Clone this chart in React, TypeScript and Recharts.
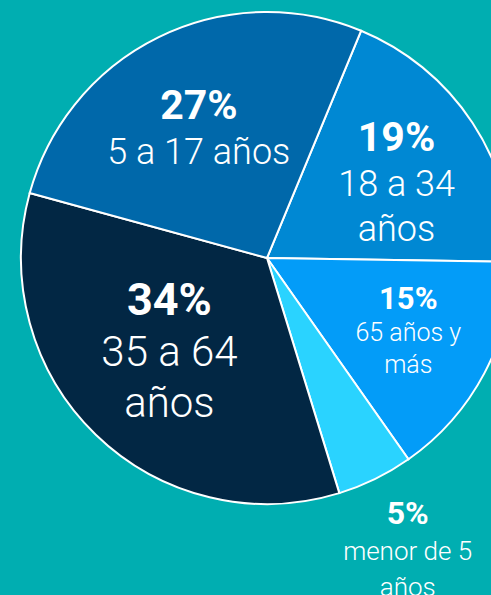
import React from 'react';
import { PieChart, Pie, Cell } from 'recharts';

// Age groups, clockwise from the top
const groups = ['18 a 34\naños', '65 años y\nmás', 'menor de 5\naños', '35 a 64\naños', '5 a 17 años'];
const shares = [19, 15, 5, 34, 27];
const colors = ['#0088D3', '#039CF8', '#2AD3FF', '#022744', '#0068AA'];

const data = groups.map((name, i) => ({ name, value: shares[i] }));

const RADIAN = Math.PI / 180;

// Font sizes and spacing depend on slice size
const tierFor = (value: number) => {
    if (value >= 30) return { bold: 45, light: 42, gap: 51, rf: 0.57, cap: 7 };
    if (value >= 18) return { bold: 41, light: 36, gap: 45, rf: 0.63, cap: 23 };
    if (value >= 10) return { bold: 31, light: 25, gap: 32, rf: 0.65, cap: 8 };
    return { bold: 32, light: 26, gap: 36, rf: 1.3, cap: 15 };
};

const renderLabel = (props: any) => {
    const { cx, cy, midAngle, outerRadius, value, name } = props;
    const t = tierFor(value);
    const r = outerRadius * t.rf;
    const x = cx + r * Math.cos(-midAngle * RADIAN);
    const y = cy + r * Math.sin(-midAngle * RADIAN);
    const lines = String(name).split('\n');
    const n = lines.length + 1;
    const y0 = y - ((n - 1) * t.gap) / 2 + t.cap;
    return (
        <text x={x} y={y0} textAnchor="middle" fill="#ffffff" fontFamily="Roboto, sans-serif">
            <tspan x={x} y={y0} fontWeight={700} fontSize={t.bold}>{`${value}%`}</tspan>
            {lines.map((line, i) => (
                <tspan key={i} x={x} y={y0 + (i + 1) * t.gap} fontWeight={300} fontSize={t.light}>
                    {line}
                </tspan>
            ))}
        </text>
    );
};

const App: React.FC = () => {
    return (
        <div style={{ position: 'absolute', left: 0, top: 0, width: 491, height: 595, background: '#00AEB1', overflow: 'hidden' }}>
            <PieChart width={491} height={595} margin={{ top: 0, right: 0, bottom: 0, left: 0 }}>
                <Pie
                    data={data}
                    dataKey="value"
                    nameKey="name"
                    cx={267}
                    cy={258}
                    outerRadius={246}
                    startAngle={67.5}
                    endAngle={-292.5}
                    stroke="#ffffff"
                    strokeWidth={2}
                    label={renderLabel}
                    labelLine={false}
                    isAnimationActive={false}
                >
                    {data.map((entry, index) => (
                        <Cell key={`cell-${index}`} fill={colors[index]} />
                    ))}
                </Pie>
            </PieChart>
        </div>
    );
};

export default App;
